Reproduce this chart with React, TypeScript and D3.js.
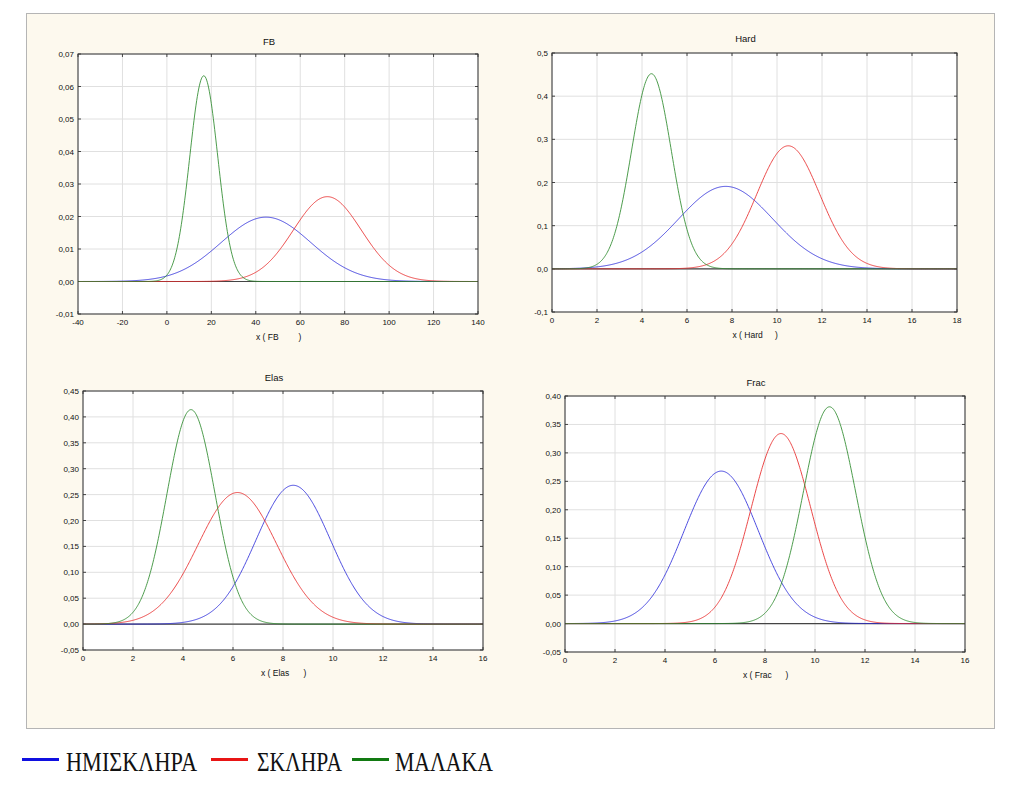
import React from "react";
import * as d3 from "d3";

// Groups (legend)
const groups = ["ΗΜΙΣΚΛΗΡΑ", "ΣΚΛΗΡΑ", "ΜΑΛΑΚΑ"];
const groupColors = ["#2b2bd9", "#e82a2a", "#2e8b2e"];
const legendColors = ["#1010e0", "#e81515", "#127a12"];

// Panels
const panelTitles = ["FB", "Hard", "Elas", "Frac"];
const xDomains: [number, number][] = [[-40, 140], [0, 18], [0, 16], [0, 16]];
const yDomains: [number, number][] = [[-0.01, 0.07], [-0.1, 0.5], [-0.05, 0.45], [-0.05, 0.4]];
const xTicks = [
  [-40, -20, 0, 20, 40, 60, 80, 100, 120, 140],
  [0, 2, 4, 6, 8, 10, 12, 14, 16, 18],
  [0, 2, 4, 6, 8, 10, 12, 14, 16],
  [0, 2, 4, 6, 8, 10, 12, 14, 16],
];
const yTicks = [
  [-0.01, 0, 0.01, 0.02, 0.03, 0.04, 0.05, 0.06, 0.07],
  [-0.1, 0, 0.1, 0.2, 0.3, 0.4, 0.5],
  [-0.05, 0, 0.05, 0.1, 0.15, 0.2, 0.25, 0.3, 0.35, 0.4, 0.45],
  [-0.05, 0, 0.05, 0.1, 0.15, 0.2, 0.25, 0.3, 0.35, 0.4],
];
const yDecimals = [2, 1, 2, 2];

// Fitted normal curve parameters per panel, per group [ΗΜΙΣΚΛΗΡΑ, ΣΚΛΗΡΑ, ΜΑΛΑΚΑ]
const meansFB = [44.6, 72.2, 16.6];
const peaksFB = [0.0198, 0.0261, 0.0633];
const meansHard = [7.72, 10.5, 4.42];
const peaksHard = [0.191, 0.285, 0.452];
const meansElas = [8.41, 6.18, 4.32];
const peaksElas = [0.268, 0.254, 0.414];
const meansFrac = [6.25, 8.64, 10.58];
const peaksFrac = [0.268, 0.334, 0.381];

const panelMeans = [meansFB, meansHard, meansElas, meansFrac];
const panelPeaks = [peaksFB, peaksHard, peaksElas, peaksFrac];

// Layout boxes (plot areas)
const boxes = [
  { l: 78, r: 478, t: 54, b: 314, tt: 9 },
  { l: 552, r: 957, t: 53, b: 312, tt: 11 },
  { l: 83, r: 483, t: 391, b: 650, tt: 10 },
  { l: 565, r: 965, t: 396, b: 652, tt: 10 },
];

const fmt = (v: number, d: number) => {
  const s = Math.abs(v) < 1e-12 ? (0).toFixed(d) : v.toFixed(d);
  return s.replace(".", ",");
};

function Panel({ i }: { i: number }) {
  const bx = boxes[i];
  const x = d3.scaleLinear().domain(xDomains[i]).range([bx.l, bx.r]);
  const y = d3.scaleLinear().domain(yDomains[i]).range([bx.b, bx.t]);
  const xs = d3.range(0, 601).map((k) => xDomains[i][0] + ((xDomains[i][1] - xDomains[i][0]) * k) / 600);
  const line = d3
    .line<[number, number]>()
    .x((d) => x(d[0]))
    .y((d) => y(d[1]));
  const cx = (bx.l + bx.r) / 2;
  const tickFont = "Liberation Sans, Arial, sans-serif";
  return (
    <g>
      <rect x={bx.l} y={bx.t} width={bx.r - bx.l} height={bx.b - bx.t} fill="#ffffff" />
      {xTicks[i].map((t) => (
        <line key={"gx" + t} x1={x(t)} x2={x(t)} y1={bx.t} y2={bx.b} stroke="#e0e0e0" strokeWidth={1} />
      ))}
      {yTicks[i].map((t) => (
        <line key={"gy" + t} x1={bx.l} x2={bx.r} y1={y(t)} y2={y(t)} stroke="#e0e0e0" strokeWidth={1} />
      ))}
      <line x1={bx.l} x2={bx.r} y1={y(0)} y2={y(0)} stroke="#444" strokeWidth={1.2} />
      {xTicks[i].map((t) => (
        <g key={"tx" + t}>
          <line x1={x(t)} x2={x(t)} y1={bx.b} y2={bx.b - 3} stroke="#444" />
          <line x1={x(t)} x2={x(t)} y1={bx.t} y2={bx.t + 3} stroke="#444" />
          <text x={x(t)} y={bx.b + 11} fontSize={8} textAnchor="middle" fill="#111" fontFamily={tickFont}>
            {String(t)}
          </text>
        </g>
      ))}
      {yTicks[i].map((t) => (
        <g key={"ty" + t}>
          <line x1={bx.l} x2={bx.l + 3} y1={y(t)} y2={y(t)} stroke="#444" />
          <line x1={bx.r} x2={bx.r - 3} y1={y(t)} y2={y(t)} stroke="#444" />
          <text x={bx.l - 4} y={y(t) + 3} fontSize={8} textAnchor="end" fill="#111" fontFamily={tickFont}>
            {fmt(t, yDecimals[i])}
          </text>
        </g>
      ))}
      {panelMeans[i].map((m, g) => {
        const pk = panelPeaks[i][g];
        const sd = 1 / (pk * Math.sqrt(2 * Math.PI));
        const pts: [number, number][] = xs.map((v) => [v, pk * Math.exp(-0.5 * ((v - m) / sd) ** 2)]);
        return (
          <path key={g} d={line(pts) || ""} fill="none" stroke={groupColors[g]} strokeWidth={1} strokeOpacity={0.85} />
        );
      })}
      <rect x={bx.l} y={bx.t} width={bx.r - bx.l} height={bx.b - bx.t} fill="none" stroke="#333" strokeWidth={1} />
      <text x={cx - 9} y={bx.t - bx.tt} fontSize={9.5} textAnchor="middle" fill="#111" fontFamily={tickFont}>
        {panelTitles[i]}
      </text>
      <text x={cx - 22} y={bx.b + 26} fontSize={8.5} textAnchor="start" fill="#111" fontFamily={tickFont}>
        {"x ( " + panelTitles[i]}
      </text>
      <text x={cx + 22} y={bx.b + 26} fontSize={8.5} textAnchor="middle" fill="#111" fontFamily={tickFont}>
        )
      </text>
    </g>
  );
}

const legendLineX = [22, 211, 352];
const legendTextX = [66, 257, 395];
const legendTextW = [131, 85, 98];

export default function App() {
  return (
    <svg width={1024} height={791} style={{ position: "absolute", left: 0, top: 0, display: "block" }}>
      <rect x={0} y={0} width={1024} height={791} fill="#ffffff" />
      <rect x={26.5} y={13.5} width={968} height={715} fill="#fdf9ee" stroke="#b5b5b5" strokeWidth={1} />
      {[0, 1, 2, 3].map((i) => (
        <Panel key={i} i={i} />
      ))}
      {groups.map((g, k) => (
        <g key={g}>
          <line x1={legendLineX[k]} x2={legendLineX[k] + 37} y1={759.5} y2={759.5} stroke={legendColors[k]} strokeWidth={3} />
          <text
            x={legendTextX[k]}
            y={771}
            fontSize={27}
            fontFamily="Liberation Serif, Times New Roman, serif"
            fill="#111"
            textLength={legendTextW[k]}
            lengthAdjust="spacingAndGlyphs"
          >
            {g}
          </text>
        </g>
      ))}
    </svg>
  );
}
